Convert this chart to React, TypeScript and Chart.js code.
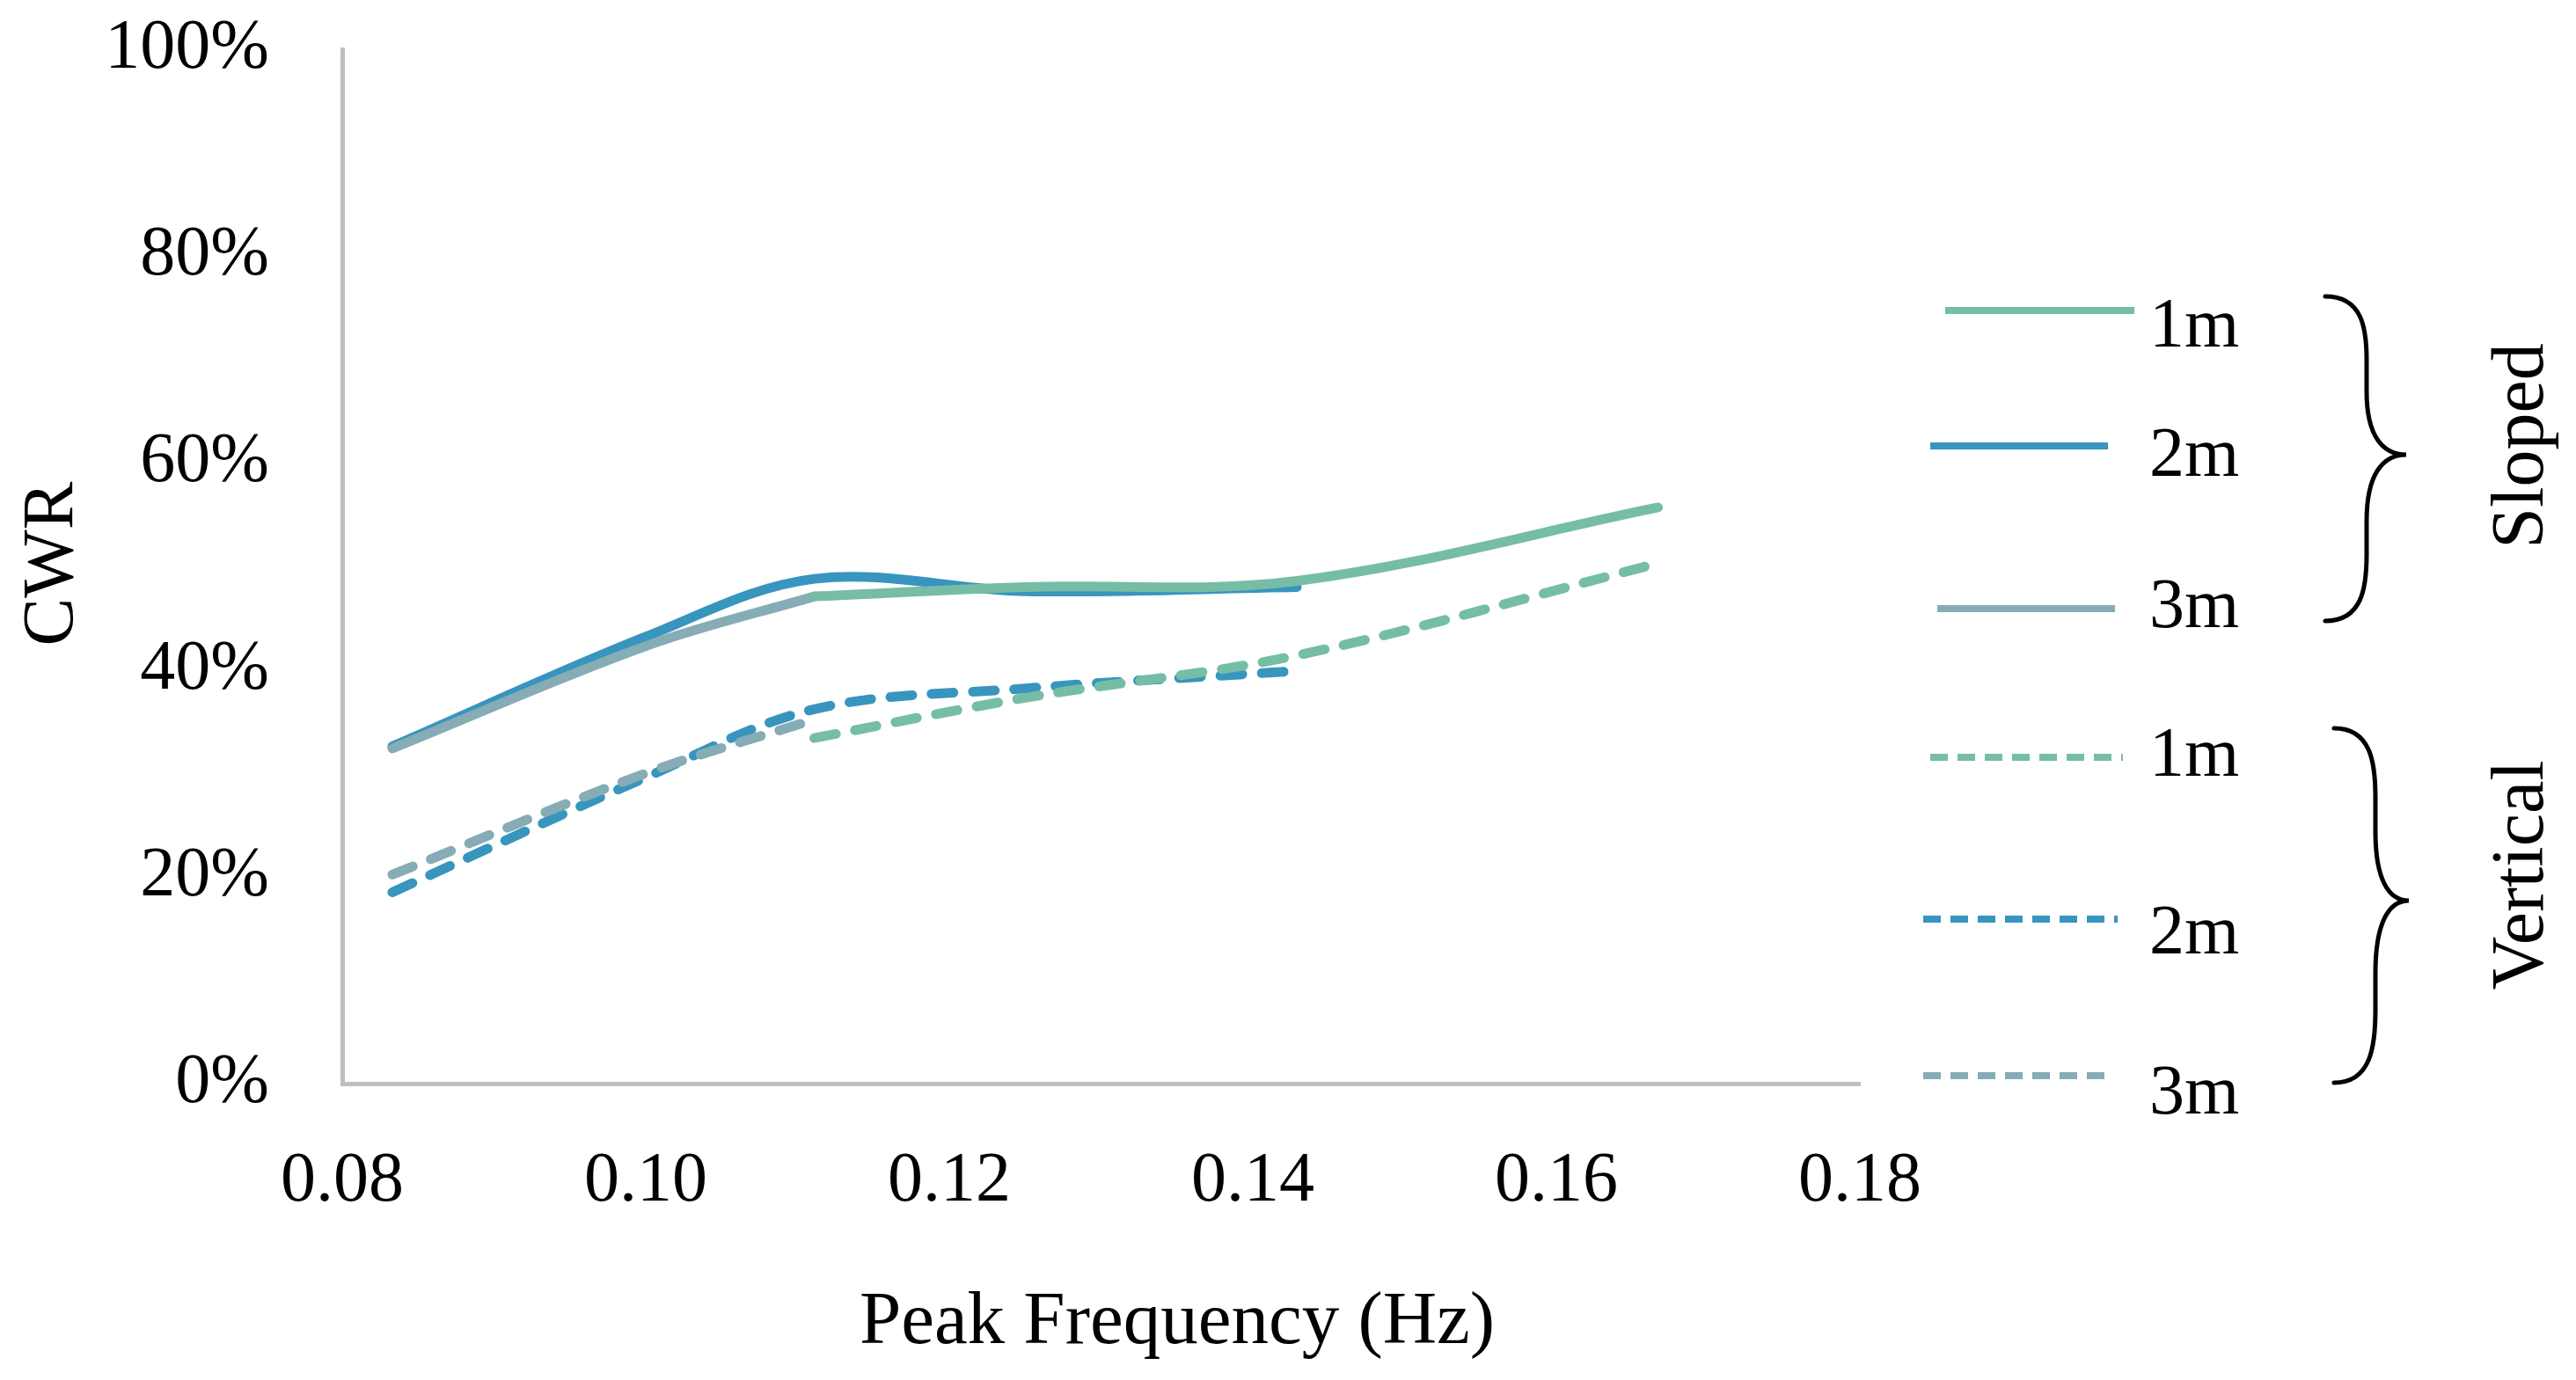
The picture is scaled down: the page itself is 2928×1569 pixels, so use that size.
import React, { useEffect, useRef } from 'react';
import Chart from 'chart.js/auto';

// ---------- data ----------
const freqS1 = [0.1111, 0.125, 0.1429, 0.1667];
const cwrS1 = [47.1, 48.0, 48.6, 55.7];
const freqS2 = [0.0833, 0.1, 0.1111, 0.125, 0.1429];
const cwrS2 = [32.6, 43.2, 48.8, 47.6, 48.0];
const freqS3 = [0.0833, 0.1, 0.1111];
const cwrS3 = [32.4, 42.3, 47.1];

const freqV1 = [0.1111, 0.125, 0.1429, 0.1667];
const cwrV1 = [33.4, 37.3, 41.4, 50.3];
const freqV2 = [0.0833, 0.1, 0.1111, 0.125, 0.1429];
const cwrV2 = [18.5, 29.6, 36.2, 38.2, 39.9];
const freqV3 = [0.0833, 0.1, 0.1111];
const cwrV3 = [20.2, 30.0, 35.2];

const depthLabels = ['1m', '2m', '3m'];
const groupLabels = ['Sloped', 'Vertical'];
const xAxisTitle = 'Peak Frequency (Hz)';
const yAxisTitle = 'CWR';

// ---------- styles ----------
const W = 2928;
const H = 1569;
const FONT = '"Liberation Serif", "Times New Roman", serif';
const COLORS = ['#76BDA5', '#3795BE', '#86ACB6'];
const DASH = [25, 22];

const pts = (xs: number[], ys: number[]) => xs.map((x, i) => ({ x, y: ys[i] }));

// legend layout (pixels)
const legendLines = [
  { x0: 2211, x1: 2426, y: 353, tb: 394 },
  { x0: 2194, x1: 2396, y: 507, tb: 541 },
  { x0: 2202, x1: 2404, y: 692, tb: 713 },
  { x0: 2194, x1: 2413, y: 861, tb: 882 },
  { x0: 2186, x1: 2407, y: 1045, tb: 1084 },
  { x0: 2186, x1: 2398, y: 1223, tb: 1266 },
];

function drawBrace(ctx: CanvasRenderingContext2D, x0: number, xm: number, xt: number, yTop: number, yMid: number, yBot: number) {
  const r1 = (yMid - yTop) * 0.4;
  const r2 = (yBot - yMid) * 0.4;
  ctx.beginPath();
  ctx.moveTo(x0, yTop);
  ctx.bezierCurveTo(xm - 5, yTop, xm, yTop + r1 * 0.5, xm, yTop + r1);
  ctx.lineTo(xm, yMid - r1);
  ctx.bezierCurveTo(xm, yMid - r1 * 0.3, xm + (xt - xm) * 0.4, yMid, xt, yMid);
  ctx.bezierCurveTo(xm + (xt - xm) * 0.4, yMid, xm, yMid + r2 * 0.3, xm, yMid + r2);
  ctx.lineTo(xm, yBot - r2);
  ctx.bezierCurveTo(xm, yBot - r2 * 0.5, xm - 5, yBot, x0, yBot);
  ctx.stroke();
}

const overlayPlugin = {
  id: 'overlay',
  afterDraw(chart: any) {
    const ctx: CanvasRenderingContext2D = chart.ctx;
    ctx.save();
    ctx.fillStyle = '#000';

    // x title
    ctx.font = `85px ${FONT}`;
    ctx.textAlign = 'center';
    ctx.textBaseline = 'alphabetic';
    ctx.fillText(xAxisTitle, 1338, 1527);

    // y title
    ctx.save();
    ctx.translate(82, 641);
    ctx.rotate(-Math.PI / 2);
    ctx.font = `82px ${FONT}`;
    ctx.fillText(yAxisTitle, 0, 0);
    ctx.restore();

    // legend entries
    const order = [
      { g: 0, d: 0 }, { g: 0, d: 1 }, { g: 0, d: 2 },
      { g: 1, d: 0 }, { g: 1, d: 1 }, { g: 1, d: 2 },
    ];
    order.forEach((o, i) => {
      const L = legendLines[i];
      ctx.save();
      ctx.strokeStyle = COLORS[o.d];
      ctx.lineWidth = 8;
      ctx.lineCap = 'butt';
      ctx.setLineDash(o.g === 1 ? [20, 11] : []);
      ctx.beginPath();
      ctx.moveTo(L.x0, L.y);
      ctx.lineTo(L.x1, L.y);
      ctx.stroke();
      ctx.restore();
      ctx.font = `80px ${FONT}`;
      ctx.textAlign = 'left';
      ctx.textBaseline = 'alphabetic';
      ctx.fillText(depthLabels[o.d], 2443, L.tb);
    });

    // braces
    ctx.strokeStyle = '#000';
    ctx.lineWidth = 5;
    ctx.lineCap = 'round';
    drawBrace(ctx, 2643, 2690, 2735, 337, 517, 706);
    drawBrace(ctx, 2653, 2700, 2738, 828, 1024, 1231);

    // group labels
    ctx.font = `84px ${FONT}`;
    ctx.textAlign = 'center';
    ctx.textBaseline = 'alphabetic';
    ctx.save();
    ctx.translate(2890, 507);
    ctx.rotate(-Math.PI / 2);
    ctx.fillText(groupLabels[0], 0, 0);
    ctx.restore();
    ctx.save();
    ctx.translate(2890, 995);
    ctx.rotate(-Math.PI / 2);
    ctx.fillText(groupLabels[1], 0, 0);
    ctx.restore();

    ctx.restore();
  },
};

export default function App() {
  const ref = useRef<HTMLCanvasElement | null>(null);

  useEffect(() => {
    document.body.style.margin = '0';
    document.body.style.overflow = 'hidden';
    const canvas = ref.current;
    if (!canvas) return;

    const mk = (label: string, xs: number[], ys: number[], color: string, dashed: boolean) => ({
      label,
      data: pts(xs, ys),
      borderColor: color,
      backgroundColor: color,
      borderWidth: 11,
      borderDash: dashed ? DASH : [],
      borderCapStyle: 'round',
      borderJoinStyle: 'round',
      pointRadius: 0,
      fill: false,
      tension: 0.35,
    });

    const datasets: any[] = [
      mk(`${groupLabels[0]} ${depthLabels[0]}`, freqS1, cwrS1, COLORS[0], false),
      mk(`${groupLabels[1]} ${depthLabels[0]}`, freqV1, cwrV1, COLORS[0], true),
      mk(`${groupLabels[0]} ${depthLabels[2]}`, freqS3, cwrS3, COLORS[2], false),
      mk(`${groupLabels[1]} ${depthLabels[2]}`, freqV3, cwrV3, COLORS[2], true),
      mk(`${groupLabels[0]} ${depthLabels[1]}`, freqS2, cwrS2, COLORS[1], false),
      mk(`${groupLabels[1]} ${depthLabels[1]}`, freqV2, cwrV2, COLORS[1], true),
    ];

    const chart = new Chart(canvas, {
      type: 'line',
      data: { datasets },
      options: {
        animation: false,
        responsive: false,
        devicePixelRatio: 1,
        layout: { padding: { left: 0, right: 814, top: 56, bottom: 0 } },
        plugins: {
          legend: { display: false },
          tooltip: { enabled: false },
          title: { display: false },
        },
        scales: {
          x: {
            type: 'linear',
            min: 0.08,
            max: 0.18,
            grid: { display: false, drawTicks: false },
            border: { display: true, color: '#BFBFBF', width: 5 },
            ticks: {
              stepSize: 0.02,
              padding: 64,
              color: '#000',
              maxRotation: 0,
              autoSkip: false,
              font: { family: FONT, size: 80 },
              callback: (v: any) => Number(v).toFixed(2),
            },
            afterFit: (s: any) => { s.height = 337; s.paddingLeft = 0; s.paddingRight = 0; },
          },
          y: {
            type: 'linear',
            min: 0,
            max: 100,
            grid: { display: false, drawTicks: false },
            border: { display: true, color: '#BFBFBF', width: 5 },
            ticks: {
              stepSize: 20,
              padding: 83,
              color: '#000',
              font: { family: FONT, size: 80 },
              callback: (v: any) => `${v}%`,
            },
            afterFit: (s: any) => { s.width = 389; s.paddingTop = 0; s.paddingBottom = 0; },
          },
        },
      } as any,
      plugins: [overlayPlugin],
    });

    return () => chart.destroy();
  }, []);

  return (
    <div style={{ width: W, height: H }}>
      <canvas ref={ref} width={W} height={H} style={{ display: 'block', width: W, height: H }} />
    </div>
  );
}
